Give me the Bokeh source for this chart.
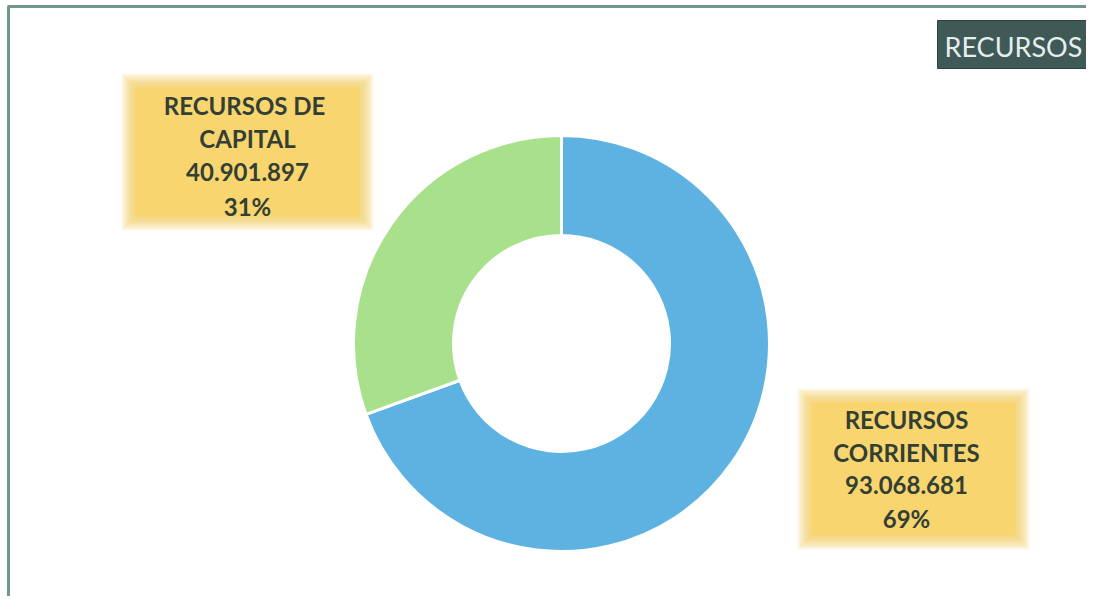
import math
from bokeh.plotting import figure
from bokeh.models import Range1d
from bokeh.core.properties import value
from bokeh.embed import file_html
from bokeh.resources import INLINE

# ---- data ----
categories = ["RECURSOS CORRIENTES", "RECURSOS DE CAPITAL"]
amounts = [93068681, 40901897]
amount_labels = ["93.068.681", "40.901.897"]
pct_labels = ["69%", "31%"]
title_text = "RECURSOS"

colors = ["#5DB2E1", "#A8E08C"]

W, H = 1086, 596
p = figure(width=W, height=H, output_backend="svg", toolbar_location=None,
           x_range=Range1d(0, W), y_range=Range1d(0, H),
           min_border=0, outline_line_color=None, background_fill_color="white",
           border_fill_color="white")
p.axis.visible = False
p.grid.visible = False

def Y(y):
    return H - y

# frame lines
p.segment(x0=[7], y0=[Y(6)], x1=[W], y1=[Y(6)], line_color="#6f978d", line_width=3)
p.segment(x0=[8], y0=[Y(6)], x1=[8], y1=[Y(H)], line_color="#6f978d", line_width=3)

# donut
total = sum(amounts)
cx, cy = 561, Y(343)
starts, ends = [], []
ang = math.pi / 2
for a in amounts:
    span = 2 * math.pi * a / total
    starts.append(ang - span)
    ends.append(ang)
    ang -= span
p.annular_wedge(x=[cx] * len(amounts), y=[cy] * len(amounts),
                inner_radius=108, outer_radius=208,
                inner_radius_units="screen", outer_radius_units="screen",
                start_angle=starts, end_angle=ends, direction="anticlock",
                fill_color=colors, line_color="white", line_width=3)

# label boxes with soft glow
def glow_box(x0, y0, x1, y1):
    xc, yc = (x0 + x1) / 2, Y((y0 + y1) / 2)
    w, h = x1 - x0, y1 - y0
    n = 14
    for i in range(n, 0, -1):
        p.rect(x=[xc], y=[yc], width=w - 28 + i * 2, height=h - 28 + i * 2,
               fill_color="#F8D56A", fill_alpha=0.11, line_color=None)
    p.rect(x=[xc], y=[yc], width=w - 28, height=h - 28,
           fill_color="#F8D56A", fill_alpha=0.85, line_color=None)

glow_box(121, 73, 373, 230)
glow_box(797, 388, 1029, 549)

text_color = "#333f34"
lab1 = ["RECURSOS  DE", "CAPITAL", amount_labels[1], pct_labels[1]]
ys1 = [105, 138, 171, 206]
p.text(x=[247] * 4, y=[Y(v) for v in ys1], text=lab1, text_align="center",
       text_baseline="middle", text_font=value("Lato"), text_font_style="bold",
       text_font_size="24px", text_color=text_color)

lab2 = ["RECURSOS", "CORRIENTES", amount_labels[0], pct_labels[0]]
ys2 = [419, 452, 484, 518]
p.text(x=[906] * 4, y=[Y(v) for v in ys2], text=lab2, text_align="center",
       text_baseline="middle", text_font=value("Lato"), text_font_style="bold",
       text_font_size="24px", text_color=text_color)

# title box
p.quad(left=[937], right=[W + 2], top=[Y(20)], bottom=[Y(68)],
       fill_color="#3f5956", line_color="#2f4543", line_width=1)
p.text(x=[944], y=[Y(46)], text=[title_text], text_align="left",
       text_baseline="middle", text_font=value("Lato"),
       text_font_size="27px", text_color="#e6eeee")

open("out.html", "w").write(file_html(p, INLINE))
